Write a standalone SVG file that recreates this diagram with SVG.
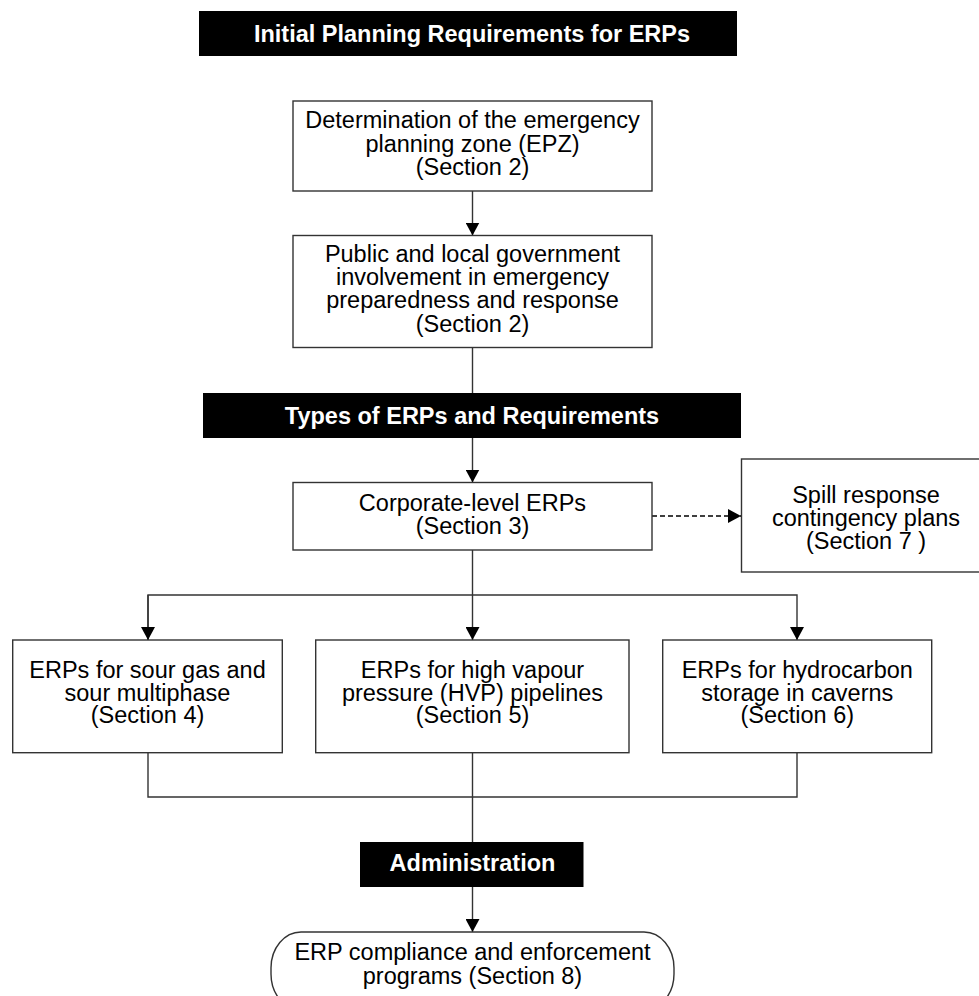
<svg xmlns="http://www.w3.org/2000/svg" width="979" height="996" viewBox="0 0 979 996">
<style>
.box{fill:#fff;stroke:#333;stroke-width:1.4}
.bar{fill:#000}
.t{font-family:"Liberation Sans",Arial,sans-serif;font-size:23.5px;fill:#000;text-anchor:middle}
.h{font-family:"Liberation Sans",Arial,sans-serif;font-size:23.5px;font-weight:bold;fill:#fff;text-anchor:middle}
.c{fill:none;stroke:#333;stroke-width:1.4}
.d{fill:none;stroke:#000;stroke-width:1.4;stroke-dasharray:5,3}
</style>
<defs>
<marker id="ah" markerUnits="userSpaceOnUse" markerWidth="14" markerHeight="14" viewBox="0 0 14 14" refX="13" refY="7" orient="auto">
<path d="M0,0 L13,7 L0,14 Z" fill="#000"/>
</marker>
</defs>
<rect width="979" height="996" fill="#fff"/>
<g id="connectors">
<line class="c" x1="472.5" y1="191" x2="472.5" y2="235.5" marker-end="url(#ah)"/>
<line class="c" x1="472.5" y1="348" x2="472.5" y2="393"/>
<line class="c" x1="472.5" y1="438" x2="472.5" y2="482.5" marker-end="url(#ah)"/>
<line class="d" x1="652" y1="516" x2="741" y2="516" marker-end="url(#ah)"/>
<line class="c" x1="472.5" y1="550" x2="472.5" y2="640" marker-end="url(#ah)"/>
<polyline class="c" points="148,640 148,595 797,595 797,640" marker-end="url(#ah)"/>
<line class="c" x1="148" y1="595" x2="148" y2="640" marker-end="url(#ah)"/>
<polyline class="c" points="148,753 148,797 797,797 797,753"/>
<line class="c" x1="472.5" y1="753" x2="472.5" y2="842"/>
<line class="c" x1="472.5" y1="887" x2="472.5" y2="932" marker-end="url(#ah)"/>
</g>
<g id="title1">
<rect class="bar" x="199" y="11" width="538" height="45"/>
<text class="h" x="472" y="42">Initial Planning Requirements for ERPs</text>
</g>
<g id="epz">
<rect class="box" x="293" y="101" width="359" height="90"/>
<text class="t" x="472.5" y="128.3">Determination of the emergency</text>
<text class="t" x="472.5" y="151.7">planning zone (EPZ)</text>
<text class="t" x="472.5" y="175">(Section 2)</text>
</g>
<g id="public">
<rect class="box" x="293" y="235.5" width="359" height="112"/>
<text class="t" x="472.5" y="261.7">Public and local government</text>
<text class="t" x="472.5" y="285">involvement in emergency</text>
<text class="t" x="472.5" y="308.3">preparedness and response</text>
<text class="t" x="472.5" y="331.7">(Section 2)</text>
</g>
<g id="title2">
<rect class="bar" x="203" y="393" width="538" height="45"/>
<text class="h" x="472" y="424">Types of ERPs and Requirements</text>
</g>
<g id="corporate">
<rect class="box" x="293" y="482.5" width="359" height="67.5"/>
<text class="t" x="472.5" y="511">Corporate-level ERPs</text>
<text class="t" x="472.5" y="534">(Section 3)</text>
</g>
<g id="spill">
<rect class="box" x="741.5" y="459" width="250" height="113"/>
<text class="t" x="866" y="503.3">Spill response</text>
<text class="t" x="866" y="526">contingency plans</text>
<text class="t" x="866" y="548.5">(Section 7 )</text>
</g>
<g id="sour">
<rect class="box" x="12.7" y="640" width="269.6" height="112.7"/>
<text class="t" x="147.5" y="677.7">ERPs for sour gas and</text>
<text class="t" x="147.5" y="700.5">sour multiphase</text>
<text class="t" x="147.5" y="723.3">(Section 4)</text>
</g>
<g id="hvp">
<rect class="box" x="315.7" y="640" width="313.3" height="112.7"/>
<text class="t" x="472.5" y="677.7">ERPs for high vapour</text>
<text class="t" x="472.5" y="700.5">pressure (HVP) pipelines</text>
<text class="t" x="472.5" y="723.3">(Section 5)</text>
</g>
<g id="caverns">
<rect class="box" x="662.7" y="640" width="269" height="112.7"/>
<text class="t" x="797.3" y="677.7">ERPs for hydrocarbon</text>
<text class="t" x="797.3" y="700.5">storage in caverns</text>
<text class="t" x="797.3" y="723.3">(Section 6)</text>
</g>
<g id="admin">
<rect class="bar" x="360" y="842" width="223.5" height="45"/>
<text class="h" x="472.5" y="870.7">Administration</text>
</g>
<g id="compliance">
<rect class="box" x="271" y="932" width="403" height="78" rx="30" ry="36"/>
<text class="t" x="472.5" y="959.5">ERP compliance and enforcement</text>
<text class="t" x="472.5" y="983.5">programs (Section 8)</text>
</g>
</svg>
